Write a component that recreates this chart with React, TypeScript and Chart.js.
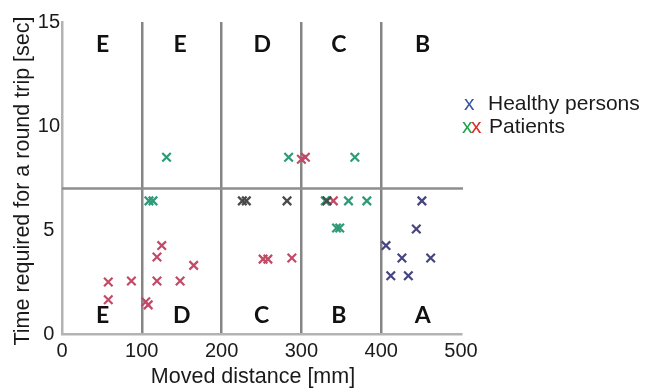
import React, { useEffect, useRef } from "react";
import { Chart, registerables } from "chart.js";

Chart.register(...registerables);

// ---- data ----
const xMin = 0;
const xMax = 500;
const xStep = 100;
const yMin = 0;
const yMax = 15;
const yStep = 5;
const zoneBoundaries = [100, 200, 300, 400];
const timeThreshold = 7;

const healthyX = [451, 444, 406, 426, 462, 412, 434];
const healthyY = [6.4, 5.05, 4.25, 3.65, 3.65, 2.8, 2.8];

const patientGreenX = [109, 114, 131, 284, 367, 330, 359, 382, 344, 348];
const patientGreenY = [6.4, 6.4, 8.5, 8.5, 8.5, 6.4, 6.4, 6.4, 5.1, 5.1];

const patientRedX = [58, 58, 87, 105, 108, 119, 125, 119, 148, 165, 300, 305, 252, 258, 288, 340];
const patientRedY = [2.5, 1.65, 2.55, 1.55, 1.4, 3.7, 4.25, 2.55, 2.55, 3.3, 8.4, 8.5, 3.6, 3.6, 3.65, 6.4];

const patientGrayX = [226, 231, 282, 332];
const patientGrayY = [6.4, 6.4, 6.4, 6.4];

const zoneTopLabels = ["E", "E", "D", "C", "B"];
const zoneTopX = [51, 148, 251, 347, 452];
const zoneTopY = 13.9;
const zoneBottomLabels = ["E", "D", "C", "B", "A"];
const zoneBottomX = [51, 150, 250, 347, 452];
const zoneBottomY = 0.9;

const xTitle = "Moved distance [mm]";
const yTitle = "Time required for a round trip [sec]";
const legendHealthy = "Healthy persons";
const legendPatients = "Patients";

const toPoints = (xs: number[], ys: number[]) => xs.map((v, i) => ({ x: v, y: ys[i] }));

const FONT = "'Liberation Sans', Arial, sans-serif";

const overlayPlugin = {
  id: "overlay",
  beforeDatasetsDraw(chart: any) {
    const { ctx, scales } = chart;
    const x = scales.x;
    const y = scales.y;
    ctx.save();
    // threshold line
    const py = y.getPixelForValue(timeThreshold);
    ctx.strokeStyle = "#8e8e8e";
    ctx.lineWidth = 2.5;
    ctx.beginPath();
    ctx.moveTo(x.getPixelForValue(xMin), py);
    ctx.lineTo(x.getPixelForValue(xMax) + 2, py);
    ctx.stroke();
    // zone letters
    ctx.fillStyle = "#111";
    ctx.font = "700 23px Lato, 'Open Sans', sans-serif";
    ctx.textAlign = "center";
    ctx.textBaseline = "middle";
    zoneTopLabels.forEach((t, i) => {
      ctx.fillText(t, x.getPixelForValue(zoneTopX[i]), y.getPixelForValue(zoneTopY));
    });
    zoneBottomLabels.forEach((t, i) => {
      ctx.fillText(t, x.getPixelForValue(zoneBottomX[i]), y.getPixelForValue(zoneBottomY));
    });
    ctx.restore();
  },
  afterDraw(chart: any) {
    const { ctx } = chart;
    ctx.save();
    ctx.fillStyle = "#1a1a1a";
    ctx.font = `21.5px ${FONT}`;
    ctx.textAlign = "center";
    ctx.textBaseline = "middle";
    ctx.fillText(xTitle, 253, 377);
    ctx.translate(23, 181);
    ctx.rotate(-Math.PI / 2);
    ctx.fillText(yTitle, 0, 0);
    ctx.restore();

    // legend
    ctx.save();
    ctx.font = `21px ${FONT}`;
    ctx.textAlign = "left";
    ctx.textBaseline = "alphabetic";
    ctx.fillStyle = "#3a55a5";
    ctx.fillText("x", 464, 110);
    ctx.fillStyle = "#1a1a1a";
    ctx.fillText(legendHealthy, 488, 110);
    ctx.fillStyle = "#22a04a";
    ctx.fillText("x", 462, 133);
    ctx.fillStyle = "#e02a2a";
    ctx.fillText("x", 471, 133);
    ctx.fillStyle = "#1a1a1a";
    ctx.fillText(legendPatients, 489, 133);
    ctx.restore();
  },
};

export default function App() {
  const canvasRef = useRef<HTMLCanvasElement | null>(null);

  useEffect(() => {
    const canvas = canvasRef.current;
    if (!canvas) return;
    const mk = (label: string, xs: number[], ys: number[], color: string) => ({
      label,
      data: toPoints(xs, ys),
      pointStyle: "crossRot",
      pointRadius: 6,
      pointBorderWidth: 2.2,
      borderColor: color,
      backgroundColor: color,
      showLine: false,
    });
    const chart = new Chart(canvas, {
      type: "scatter",
      data: {
        datasets: [
          mk("Healthy persons", healthyX, healthyY, "#45457f"),
          mk("Patients (gray)", patientGrayX, patientGrayY, "#4a4a4a"),
          mk("Patients (green)", patientGreenX, patientGreenY, "#2f9a78"),
          mk("Patients (red)", patientRedX, patientRedY, "#c24a66"),
        ],
      },
      options: {
        responsive: false,
        animation: false,
        devicePixelRatio: 1,
        layout: { padding: { left: 0, right: 185, top: 22, bottom: 0 } },
        plugins: {
          legend: { display: false },
          tooltip: { enabled: false },
          title: { display: false },
        },
        scales: {
          x: {
            type: "linear",
            min: xMin,
            max: xMax,
            ticks: {
              stepSize: xStep,
              color: "#1a1a1a",
              font: { family: FONT, size: 20 },
              padding: 5,
              maxRotation: 0,
            },
            grid: {
              drawTicks: false,
              color: (c: any) =>
                c.tick && zoneBoundaries.includes(c.tick.value) ? "#858585" : "rgba(0,0,0,0)",
              lineWidth: 2.5,
            },
            border: { display: true, color: "#b3b3b3", width: 2.5 },
            afterFit: (s: any) => {
              s.height = 56;
            },
          },
          y: {
            type: "linear",
            min: yMin,
            max: yMax,
            ticks: {
              stepSize: yStep,
              color: "#1a1a1a",
              font: { family: FONT, size: 20 },
              padding: 2,
              crossAlign: "center",
            },
            grid: { display: false, drawTicks: false },
            border: { display: true, color: "#b3b3b3", width: 2.5 },
            afterFit: (s: any) => {
              s.width = 62;
            },
          },
        },
      },
      plugins: [overlayPlugin],
    } as any);
    return () => chart.destroy();
  }, []);

  return (
    <div style={{ position: "absolute", left: 0, top: 0, width: 646, height: 390, background: "#fff" }}>
      <canvas ref={canvasRef} width={646} height={390} style={{ display: "block" }} />
    </div>
  );
}
